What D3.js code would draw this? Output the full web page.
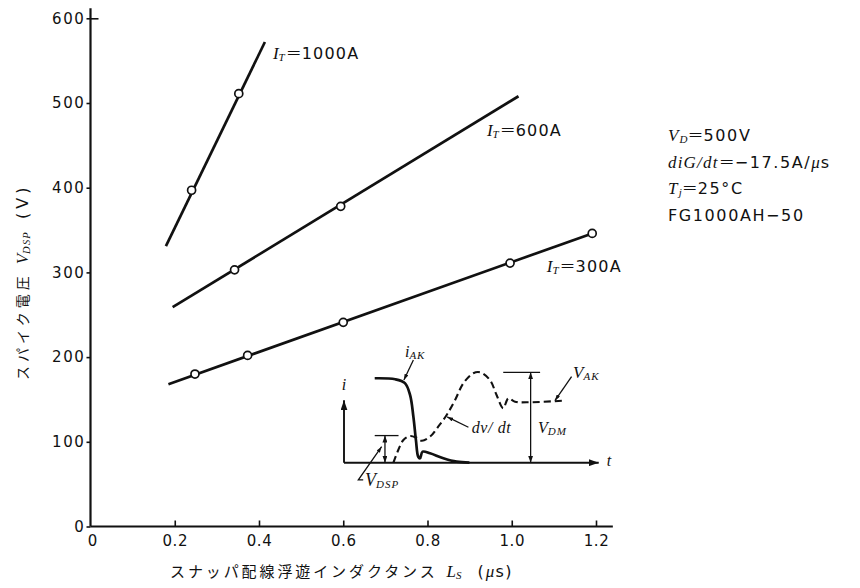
<!DOCTYPE html>
<html>
<head>
<meta charset="utf-8">
<script src="https://cdn.jsdelivr.net/npm/d3@7"></script>
<style>
  body { margin: 0; background: #fff; }
  svg { display: block; }
</style>
</head>
<body>
<svg id="chart" width="860" height="588"></svg>
<script>
// Spike voltage V_DSP versus snubber stray inductance Ls, for three turn-off currents.
const ls1000 = [0.24, 0.352];
const v1000  = [397, 511];
const ls600  = [0.342, 0.594];
const v600   = [303, 378];
const ls300  = [0.248, 0.373, 0.60, 0.996, 1.191];
const v300   = [180, 202, 241, 311, 346];

// straight-line fits drawn through each set, as [Ls, V] end points
const fit1000 = [[0.179, 331], [0.414, 572]];
const fit600  = [[0.195, 259], [1.016, 508]];
const fit300  = [[0.185, 168], [1.191, 346]];

const seriesLabels = ["1000A", "600A", "300A"];
const xTicks = [0, 0.2, 0.4, 0.6, 0.8, 1.0, 1.2];
const yTicks = [0, 100, 200, 300, 400, 500, 600];

const conditions = [
  { sym: "V", sub: "D", rest: "＝500V" },
  { sym: "diG/dt", sub: "", rest: "＝−17.5A/", mu: true },
  { sym: "T", sub: "j", rest: "＝25°C" },
  { sym: "", sub: "", rest: "FG1000AH−50" }
];

// Waveform sketch (inset): time 0..100, amplitude 0..100
const waveIak = [[12, 93.4], [20, 92.3], [23.8, 88], [25.8, 75], [27.1, 51], [28.1, 25],
                 [29.0, 6.6], [29.7, 4.9], [30.7, 12.2], [33.6, 10.4], [38.8, 4.9], [44, 1.1], [49, 0]];
const waveVak = [[19.3, 0], [21.2, 14], [23.2, 25.1], [25.8, 29.5], [28.4, 27.5], [30.4, 24.3],
                 [33.6, 28.8], [36.8, 39.8], [40.1, 52.8], [43.4, 69.4], [46.6, 87.8], [50.5, 98.9],
                 [53.1, 100], [57.0, 91.5], [59.6, 74.9], [62.2, 60.2], [64.2, 71.2], [66.8, 67.5],
                 [71.4, 66.8], [85.7, 68.6]];
const vdsp = 30;   // first spike
const vdm = 100;   // peak voltage

const svg = d3.select("#chart");
const sans = "'DejaVu Sans', 'Liberation Sans', sans-serif";
const serif = "'Liberation Serif', 'DejaVu Serif', serif";
const cjk = "'Noto Sans CJK JP', sans-serif";
const ink = "#111";

const x = d3.scaleLinear().domain([0, 1.2]).range([90.5, 596]);
const y = d3.scaleLinear().domain([0, 600]).range([526.5, 18.3]);

// ---- axes ----
const gx = svg.append("g").attr("transform", `translate(0,${y(0)})`)
  .call(d3.axisBottom(x).tickValues(xTicks.slice(1)).tickSize(-6).tickFormat(d3.format(".1f")));
gx.select(".domain").remove();
gx.selectAll(".tick line").attr("stroke", ink).attr("stroke-width", 1.6);
gx.selectAll(".tick text").attr("font-family", sans).attr("font-size", 15)
  .attr("letter-spacing", 0.6).attr("fill", ink).attr("y", 6).attr("dy", "0.9em");
// "0" at the origin
gx.append("text").attr("x", x(0) + 2).attr("y", 6).attr("dy", "0.9em")
  .attr("text-anchor", "middle").attr("font-family", sans).attr("font-size", 15).attr("fill", ink)
  .text(xTicks[0]);

const gy = svg.append("g").attr("transform", `translate(${x(0)},0)`)
  .call(d3.axisLeft(y).tickValues(yTicks).tickSize(4).tickPadding(1).tickFormat(d3.format("d")));
gy.select(".domain").remove();
gy.selectAll(".tick line").attr("stroke", ink).attr("stroke-width", 1.6);
gy.selectAll(".tick text").attr("font-family", sans).attr("font-size", 15)
  .attr("letter-spacing", 1.6).attr("fill", ink);
gy.selectAll(".tick").filter(d => d === 600).append("line")
  .attr("x1", 0).attr("x2", 8).attr("stroke", ink).attr("stroke-width", 1.6);

svg.append("line").attr("x1", x(0)).attr("x2", x(1.24)).attr("y1", y(0)).attr("y2", y(0))
  .attr("stroke", ink).attr("stroke-width", 2.2);
svg.append("line").attr("x1", x(0)).attr("x2", x(0)).attr("y1", y(0)).attr("y2", y(612))
  .attr("stroke", ink).attr("stroke-width", 2.2);

// ---- fitted lines and measured points ----
const line = d3.line().x(d => x(d[0])).y(d => y(d[1]));
const groups = [
  { fit: fit1000, ls: ls1000, v: v1000 },
  { fit: fit600, ls: ls600, v: v600 },
  { fit: fit300, ls: ls300, v: v300 }
];
groups.forEach(g => {
  svg.append("path").attr("d", line(g.fit)).attr("fill", "none")
    .attr("stroke", ink).attr("stroke-width", 2.7);
  svg.append("g").selectAll("circle").data(g.ls.map((l, i) => [l, g.v[i]])).join("circle")
    .attr("cx", d => x(d[0])).attr("cy", d => y(d[1])).attr("r", 4)
    .attr("fill", "#fff").attr("stroke", ink).attr("stroke-width", 1.7);
});

// series labels  I_T = ...
const labelAt = [[0.433, 552], [0.941, 461], [1.083, 300.5]];
seriesLabels.forEach((lab, i) => {
  const t = svg.append("text").attr("x", x(labelAt[i][0])).attr("y", y(labelAt[i][1])).attr("fill", ink);
  t.append("tspan").attr("font-family", serif).attr("font-style", "italic").attr("font-size", 17).text("I");
  t.append("tspan").attr("font-family", serif).attr("font-style", "italic").attr("font-size", 11)
    .attr("dy", 2).text("T");
  t.append("tspan").attr("font-family", cjk).attr("font-size", 16).attr("dy", -2).attr("dx", 1).text("＝");
  t.append("tspan").attr("font-family", sans).attr("font-size", 16).attr("letter-spacing", 1.2).text(lab);
});

// ---- axis titles ----
const xt = svg.append("text").attr("x", 170).attr("y", 577).attr("fill", ink);
xt.append("tspan").attr("font-family", cjk).attr("font-size", 15).attr("letter-spacing", 2.9)
  .text("スナッパ配線浮遊インダクタンス");
xt.append("tspan").attr("dx", 9).attr("font-family", serif).attr("font-style", "italic")
  .attr("font-size", 17).text("L");
xt.append("tspan").attr("font-family", serif).attr("font-style", "italic").attr("font-size", 11)
  .attr("dy", 2).text("S");
xt.append("tspan").attr("dx", 16).attr("dy", -2).attr("font-family", sans).attr("font-size", 16)
  .attr("letter-spacing", 2).text("(");
xt.append("tspan").attr("font-family", serif).attr("font-style", "italic").attr("font-size", 17)
  .attr("letter-spacing", 1).text("μ");
xt.append("tspan").attr("font-family", sans).attr("font-size", 16).attr("letter-spacing", 1.5).text("s)");

const yt = svg.append("text").attr("transform", "translate(28,380) rotate(-90)").attr("fill", ink);
yt.append("tspan").attr("font-family", cjk).attr("font-size", 14).attr("letter-spacing", 4)
  .text("スパイク電圧");
yt.append("tspan").attr("dx", 8).attr("font-family", serif).attr("font-style", "italic")
  .attr("font-size", 17).text("V");
yt.append("tspan").attr("font-family", serif).attr("font-style", "italic").attr("font-size", 10.5)
  .attr("dy", 2).attr("letter-spacing", 1.2).text("DSP");
yt.append("tspan").attr("dx", 12).attr("dy", -2).attr("font-family", sans).attr("font-size", 16)
  .attr("letter-spacing", 4).text("(V)");

// ---- test conditions ----
conditions.forEach((c, i) => {
  const t = svg.append("text").attr("x", 668).attr("y", 141 + i * 26.6).attr("fill", ink);
  if (c.sym) t.append("tspan").attr("font-family", serif).attr("font-style", "italic")
    .attr("font-size", 17).attr("letter-spacing", 1.2).text(c.sym);
  if (c.sub) t.append("tspan").attr("font-family", serif).attr("font-style", "italic")
    .attr("font-size", 11).attr("dy", 2).text(c.sub);
  if (c.rest.startsWith("＝")) {
    t.append("tspan").attr("font-family", cjk).attr("font-size", 16).attr("dy", c.sub ? -2 : 0).text("＝");
    t.append("tspan").attr("font-family", sans).attr("font-size", 16).attr("letter-spacing", 1.6)
      .text(c.rest.slice(1));
  } else {
    t.append("tspan").attr("font-family", sans).attr("font-size", 16).attr("letter-spacing", 1.6).text(c.rest);
  }
  if (c.mu) {
    t.append("tspan").attr("font-family", serif).attr("font-style", "italic").attr("font-size", 17)
      .attr("letter-spacing", 1).text("μ");
    t.append("tspan").attr("font-family", sans).attr("font-size", 16).text("s");
  }
});

// ---- inset waveform sketch ----
const tx = d3.scaleLinear().domain([0, 100]).range([344, 600]);
const ay = d3.scaleLinear().domain([0, 100]).range([462.7, 372.3]);
const defs = svg.append("defs");
function marker(id, w, h) {
  defs.append("marker").attr("id", id).attr("viewBox", `0 0 ${w} ${h}`)
    .attr("refX", w).attr("refY", h / 2).attr("markerWidth", w).attr("markerHeight", h)
    .attr("markerUnits", "userSpaceOnUse").attr("orient", "auto-start-reverse")
    .append("path").attr("d", `M0,0L${w},${h / 2}L0,${h}Z`).attr("fill", ink);
}
marker("ax", 10, 7);
marker("dbl", 7, 5);
marker("lead", 6, 4);

const wl = d3.line().x(d => tx(d[0])).y(d => ay(d[1]));
const smooth = d3.line().x(d => tx(d[0])).y(d => ay(d[1])).curve(d3.curveCatmullRom.alpha(0.5));

const gi = svg.append("g").attr("stroke", ink).attr("fill", "none");
// axes of the sketch
gi.append("path").attr("d", wl([[0, 0], [0, 69]])).attr("stroke-width", 1.9).attr("marker-end", "url(#ax)");
gi.append("path").attr("d", wl([[0, 0], [99.5, 0]])).attr("stroke-width", 1.9).attr("marker-end", "url(#ax)");
// current and voltage waveforms
gi.append("path").attr("d", smooth(waveIak)).attr("stroke-width", 2.7);
gi.append("path").attr("d", smooth(waveVak)).attr("stroke-width", 2.1).attr("stroke-dasharray", "7,4");
// spike voltage and peak voltage dimensions
gi.append("path").attr("d", wl([[12, vdsp], [21.3, vdsp]])).attr("stroke-width", 1.3);
gi.append("path").attr("d", wl([[16, vdsp], [16, 0]])).attr("stroke-width", 1.3)
  .attr("marker-start", "url(#dbl)").attr("marker-end", "url(#dbl)");
gi.append("path").attr("d", wl([[62.2, vdm], [76.6, vdm]])).attr("stroke-width", 1.3);
gi.append("path").attr("d", wl([[72.9, vdm], [72.9, 0]])).attr("stroke-width", 1.3)
  .attr("marker-start", "url(#dbl)").attr("marker-end", "url(#dbl)");
// leader lines
gi.append("path").attr("d", wl([[27.1, 113.6], [23.4, 91.5]])).attr("stroke-width", 1.3).attr("marker-end", "url(#lead)");
gi.append("path").attr("d", wl([[7.5, -19.1], [5.6, -19.1], [14.7, 17.7]])).attr("stroke-width", 1.3).attr("marker-end", "url(#lead)");
gi.append("path").attr("d", wl([[48.6, 39.2], [40.3, 50.6]])).attr("stroke-width", 1.3).attr("marker-end", "url(#lead)");
gi.append("path").attr("d", wl([[88.9, 95.1], [82.4, 68.8]])).attr("stroke-width", 1.3).attr("marker-end", "url(#lead)");

function inlabel(tt, aa, main, sub, size) {
  const t = svg.append("text").attr("x", tx(tt)).attr("y", ay(aa)).attr("fill", ink)
    .attr("font-family", serif).attr("font-style", "italic");
  t.append("tspan").attr("font-size", size).text(main);
  if (sub) t.append("tspan").attr("font-size", 11).attr("dy", 2).attr("letter-spacing", 1).text(sub);
  return t;
}
inlabel(0, 80.4, "i", "", 16).attr("text-anchor", "middle");
inlabel(23.8, 116.6, "i", "AK", 16);
inlabel(8.2, -25.8, "V", "DSP", 18);
inlabel(49.9, 32.5, "dv/ dt", "", 16).attr("letter-spacing", 0.6);
inlabel(75.8, 32.9, "V", "DM", 16);
inlabel(89.5, 93.7, "V", "AK", 17);
inlabel(102.6, -3.7, "t", "", 16);
</script>
</body>
</html>
